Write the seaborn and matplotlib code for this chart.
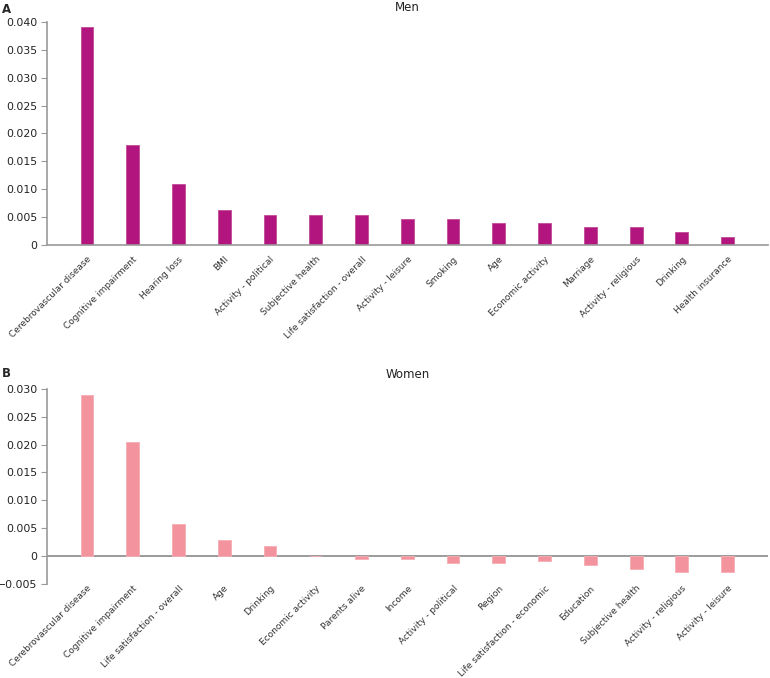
import numpy as np
import pandas as pd
import matplotlib
matplotlib.use('Agg')
import matplotlib.pyplot as plt
import seaborn as sns

# Men panel
men_labels = ['Cerebrovascular disease', 'Cognitive impairment', 'Hearing loss', 'BMI',
              'Activity - political', 'Subjective health', 'Life satisfaction - overall',
              'Activity - leisure', 'Smoking', 'Age', 'Economic activity', 'Marriage',
              'Activity - religious', 'Drinking', 'Health insurance']
men_values = [0.0391, 0.0180, 0.0110, 0.0062, 0.0054, 0.0054, 0.0054,
              0.0047, 0.0047, 0.0039, 0.0039, 0.0032, 0.0032, 0.0023, 0.0015]

# Women panel
women_labels = ['Cerebrovascular disease', 'Cognitive impairment', 'Life satisfaction - overall',
                'Age', 'Drinking', 'Economic activity', 'Parents alive', 'Income',
                'Activity - political', 'Region', 'Life satisfaction - economic', 'Education',
                'Subjective health', 'Activity - religious', 'Activity - leisure']
women_values = [0.0290, 0.0205, 0.0057, 0.0028, 0.0017, 0.0, -0.0005, -0.0005,
                -0.0012, -0.0012, -0.0010, -0.0017, -0.0023, -0.0029, -0.0029]

men_ticks = [0, 0.005, 0.010, 0.015, 0.020, 0.025, 0.030, 0.035, 0.040]
women_ticks = [-0.005, 0, 0.005, 0.010, 0.015, 0.020, 0.025, 0.030]

MEN_COLOR = '#B3157F'
WOMEN_COLOR = '#F2939E'
AXIS_GRAY = '#9a9a9a'

sns.set_style('white')
plt.rcParams['font.family'] = ['DejaVu Sans']


def fmt(v):
    if v == 0:
        return '0'
    return f'{v:.3f}'.replace('-', '\u2212')


def draw_panel(ax, labels, values, color, edge, ticks, title, xpad):
    df = pd.DataFrame({'var': labels, 'val': values})
    sns.barplot(data=df, x='var', y='val', color=color, width=0.28,
                edgecolor=edge, linewidth=0.6, saturation=1, ax=ax)
    ax.set_xlim(-0.875, len(labels) - 0.125)
    ax.set_ylim(ticks[0], ticks[-1])
    ax.set_yticks(ticks)
    ax.set_yticklabels([fmt(t) for t in ticks], fontsize=7.8, color='#222222')
    ax.set_xticks(range(len(labels)))
    ax.set_xticklabels(labels, rotation=45, ha='right', va='top', rotation_mode='anchor',
                       fontsize=6.5, color='#333333')
    ax.tick_params(axis='x', length=0, pad=xpad)
    ax.tick_params(axis='y', length=4, width=0.8, color=AXIS_GRAY, pad=3, left=True)
    ax.set_xlabel('')
    ax.set_ylabel('')
    ax.set_title(title, fontsize=8.5, color='#222222', pad=8)
    for s in ['top', 'right']:
        ax.spines[s].set_visible(False)
    ax.spines['left'].set_color(AXIS_GRAY)
    ax.spines['left'].set_linewidth(1.2)


fig = plt.figure(figsize=(7.7, 6.78), dpi=100)
ax1 = fig.add_axes([0.061, 0.6386, 0.936, 0.329])
ax2 = fig.add_axes([0.061, 0.139, 0.936, 0.2873])

draw_panel(ax1, men_labels, men_values, MEN_COLOR, '#C24A98', men_ticks, 'Men', 7)
ax1.spines['bottom'].set_color(AXIS_GRAY)
ax1.spines['bottom'].set_linewidth(1.2)

draw_panel(ax2, women_labels, women_values, WOMEN_COLOR, '#F5AEB6', women_ticks, 'Women', 0)
ax2.spines['bottom'].set_visible(False)
ax2.axhline(0, color='#8a8a8a', linewidth=1.2, zorder=0.5)

fig.text(0.003, 0.995, 'A', fontsize=8.5, fontweight='bold', va='top', ha='left')
fig.text(0.003, 0.458, 'B', fontsize=8.5, fontweight='bold', va='top', ha='left')

fig.savefig('out.png', dpi=100)
